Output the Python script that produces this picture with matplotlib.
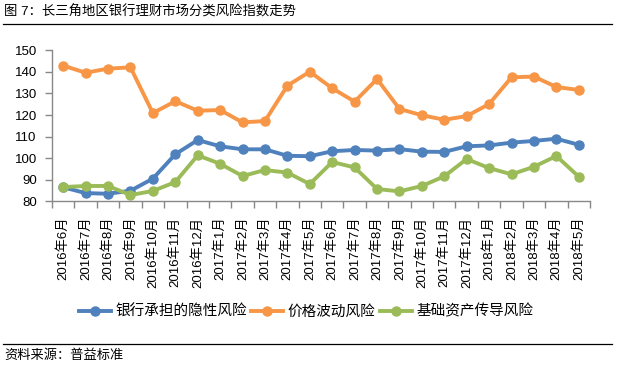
import matplotlib
matplotlib.use("Agg")
import matplotlib.pyplot as plt
from matplotlib.lines import Line2D

plt.rcParams['font.family'] = ['Liberation Sans', 'Noto Sans CJK SC', 'DejaVu Sans']

# Data
months = ['2016年6月', '2016年7月', '2016年8月', '2016年9月', '2016年10月',
          '2016年11月', '2016年12月', '2017年1月', '2017年2月', '2017年3月',
          '2017年4月', '2017年5月', '2017年6月', '2017年7月', '2017年8月',
          '2017年9月', '2017年10月', '2017年11月', '2017年12月', '2018年1月',
          '2018年2月', '2018年3月', '2018年4月', '2018年5月']

bank_risk = [86.5, 83.8, 83.5, 84.9, 90.5, 101.8, 108.4, 105.5, 104.1, 104.1,
             101.1, 100.9, 103.2, 103.8, 103.5, 104.2, 103.0, 102.9, 105.5,
             105.9, 107.2, 108.0, 109.0, 106.2]
price_risk = [142.9, 139.6, 141.5, 142.1, 120.9, 126.4, 122.0, 122.3, 116.6,
              117.2, 133.6, 140.1, 132.4, 126.2, 136.7, 122.8, 119.9, 117.8,
              119.5, 125.1, 137.5, 137.8, 133.0, 131.6]
base_risk = [86.6, 87.1, 87.1, 82.9, 84.8, 88.9, 101.3, 97.4, 91.7, 94.5,
             93.3, 88.0, 98.2, 95.7, 85.7, 84.6, 87.1, 91.6, 99.6, 95.4,
             92.5, 96.0, 101.0, 91.4]

series_names = ['银行承担的隐性风险', '价格波动风险', '基础资产传导风险']
colors = ['#4F81BD', '#F79646', '#9BBB59']

W, H = 619, 366
fig = plt.figure(figsize=(W / 100, H / 100), dpi=100)
ax = fig.add_axes([52 / W, 1 - 201.3 / H, 538 / W, 151 / H])

x = list(range(len(months)))
handles = []
for vals, name, c in zip([bank_risk, price_risk, base_risk], series_names, colors):
    line, = ax.plot(x, vals, color=c, linewidth=2.8, marker='o',
                    markersize=6.5, label=name, solid_joinstyle='round')
    handles.append(line)

ax.set_xlim(-0.5, len(months) - 0.5)
ax.set_ylim(80, 150)
ax.set_yticks(range(80, 151, 10))

# tick marks between categories, labels at the centres
ax.set_xticks([i - 0.5 for i in range(len(months) + 1)])
ax.set_xticklabels([])
ax.set_xticks(x, minor=True)
ax.set_xticklabels(months, minor=True, rotation=90, fontsize=9.5)
ax.tick_params(axis='x', which='minor', length=0, pad=11)
ax.tick_params(axis='x', which='major', length=5, color='#888888', width=1)
ax.tick_params(axis='y', length=5, color='#888888', width=1, labelsize=9.5, pad=6)

for s in ['top', 'right']:
    ax.spines[s].set_visible(False)
for s in ['left', 'bottom']:
    ax.spines[s].set_color('#888888')
    ax.spines[s].set_linewidth(1)

fig.legend(handles=handles, loc='center', bbox_to_anchor=(306 / W, 1 - 311.5 / H),
           ncol=3, frameon=False, fontsize=10.5, handlelength=2.2,
           handletextpad=0.3, columnspacing=0.3)

# title, separators and source note
fig.text(4 / W, 1 - 11.7 / H, '图 7：长三角地区银行理财市场分类风险指数走势',
         fontsize=9.6, va='center', ha='left')
fig.add_artist(Line2D([3 / W, 612 / W], [1 - 24 / H, 1 - 24 / H],
                      transform=fig.transFigure, color='black', linewidth=0.9))
fig.add_artist(Line2D([3 / W, 612 / W], [1 - 344 / H, 1 - 344 / H],
                      transform=fig.transFigure, color='black', linewidth=0.9))
fig.text(4 / W, 1 - 355.5 / H, '资料来源：普益标准', fontsize=9.5,
         va='center', ha='left')

fig.savefig('out.png', dpi=100)
